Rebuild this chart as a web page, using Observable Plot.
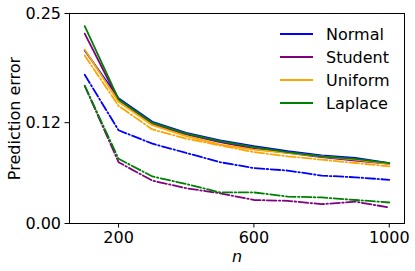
<!DOCTYPE html>
<html><head><meta charset="utf-8">
<script src="https://cdn.jsdelivr.net/npm/d3@7"></script>
<script src="https://cdn.jsdelivr.net/npm/@observablehq/plot@0.6"></script>
<style>body{margin:0;background:#fff}</style>
</head><body><div id="chart"></div>
<script>
const ns = [100,200,300,400,500,600,700,800,900,1000];
const distributions = ["Normal","Student","Uniform","Laplace"];
const colors = ["#0000ff","#800080","#ffa500","#008000"];
// solid lines
const normalSolid  = [0.206,0.149,0.121,0.108,0.099,0.092,0.086,0.081,0.078,0.072];
const studentSolid = [0.226,0.147,0.118,0.106,0.097,0.089,0.084,0.079,0.075,0.071];
const uniformSolid = [0.207,0.145,0.117,0.104,0.094,0.088,0.084,0.080,0.076,0.071];
const laplaceSolid = [0.235,0.148,0.120,0.107,0.098,0.091,0.085,0.080,0.077,0.072];
// dash-dot lines
const normalDash   = [0.177,0.111,0.095,0.084,0.073,0.066,0.063,0.057,0.055,0.052];
const studentDash  = [0.164,0.073,0.051,0.042,0.036,0.028,0.027,0.023,0.026,0.019];
const uniformDash  = [0.200,0.140,0.112,0.101,0.093,0.085,0.080,0.076,0.072,0.068];
const laplaceDash  = [0.164,0.077,0.056,0.047,0.037,0.037,0.032,0.031,0.028,0.025];
const xTicks = [200,600,1000];
const yTicks = [0,0.12,0.25];

const solidSeries = [normalSolid, studentSolid, uniformSolid, laplaceSolid];
const dashSeries = [normalDash, studentDash, uniformDash, laplaceDash];
const rows = [];
distributions.forEach((d,i)=>{
  ns.forEach((n,j)=>{
    rows.push({dist:d, style:"solid", n, v:solidSeries[i][j]});
    rows.push({dist:d, style:"dash", n, v:dashSeries[i][j]});
  });
});

const lineMarks = [];
distributions.forEach((d,i)=>{
  lineMarks.push(Plot.line(rows.filter(r=>r.dist===d && r.style==="dash"), {x:"n", y:"v", stroke:colors[i], strokeWidth:1.8, strokeDasharray:"9.6,2.4,1.5,2.4"}));
});
distributions.forEach((d,i)=>{
  lineMarks.push(Plot.line(rows.filter(r=>r.dist===d && r.style==="solid"), {x:"n", y:"v", stroke:colors[i], strokeWidth:1.8}));
});

const FS = "16px";
const plot = Plot.plot({
  width:415, height:271,
  marginLeft:69, marginRight:11, marginTop:13, marginBottom:48,
  style:{fontFamily:"DejaVu Sans", fontSize:FS, color:"#000", background:"#fff"},
  x:{domain:[55,1045]},
  y:{domain:[0,0.25]},
  marks:[
    ...lineMarks,
    Plot.frame({stroke:"#000", strokeWidth:1}),
    Plot.axisX({ticks:xTicks, tickSize:4.5, tickPadding:4, tickFormat:d=>String(d), label:"n", labelAnchor:"center", labelArrow:"none", labelOffset:38}),
    Plot.axisY({ticks:yTicks, tickSize:4.5, tickPadding:4, tickFormat:d3.format(".2f"), label:"Prediction error", labelAnchor:"center", labelArrow:"none", labelOffset:61})
  ]
});
document.getElementById("chart").appendChild(plot);
const svg = d3.select(plot);
svg.selectAll("g").filter(function(){return this.getAttribute("font-size");}).attr("font-size", null);
svg.selectAll("text").style("font-size",FS);
svg.selectAll('g[aria-label="x-axis label"] text').style("font-style","italic");

// legend
const lg = svg.append("g").attr("font-family","DejaVu Sans");
distributions.forEach((d,i)=>{
  const y = 34 + i*23;
  lg.append("line").attr("x1",280).attr("x2",313).attr("y1",y).attr("y2",y).attr("stroke",colors[i]).attr("stroke-width",1.8);
  lg.append("text").attr("x",326).attr("y",y).attr("dy","0.35em").attr("text-anchor","start").attr("fill","#000").style("font-size",FS).text(d);
});
</script>
</body></html>
